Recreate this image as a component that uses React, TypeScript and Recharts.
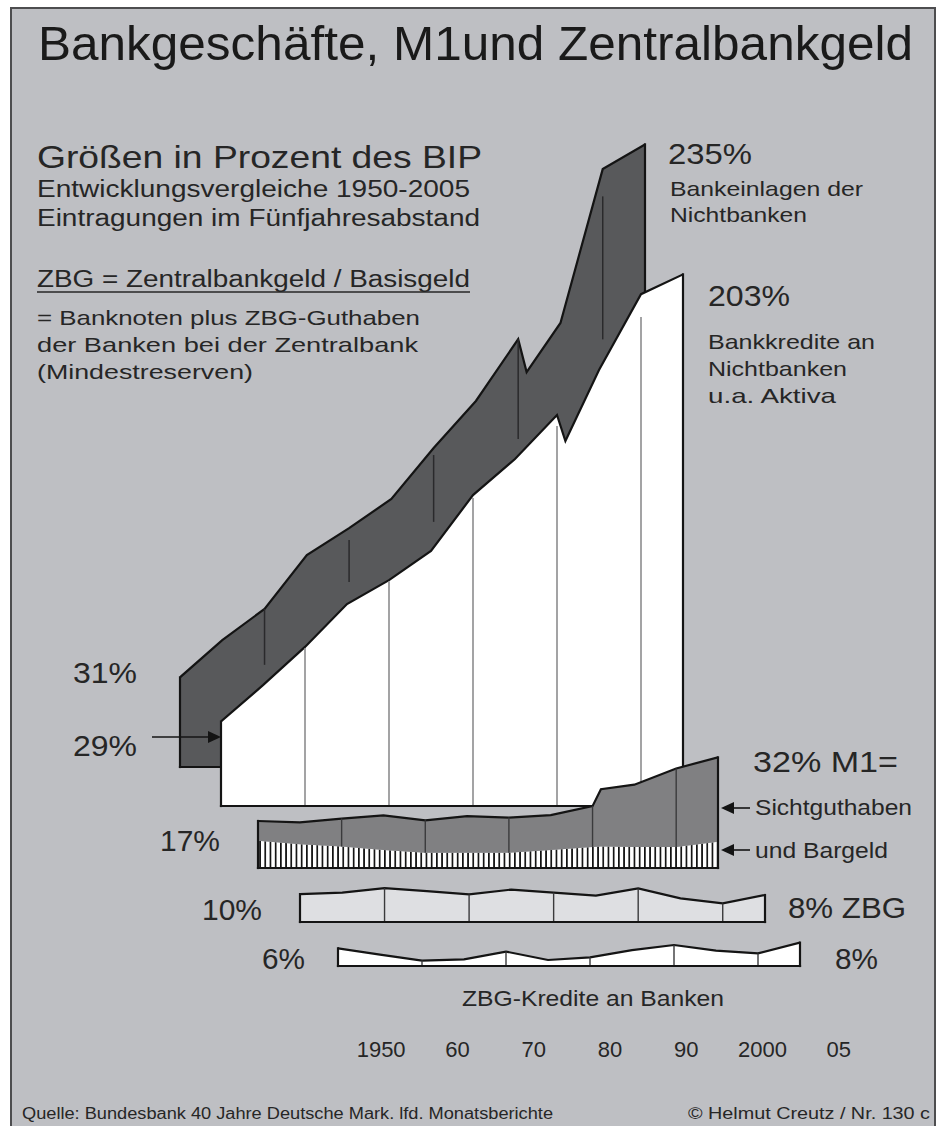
import React from 'react';
import { AreaChart, Area, XAxis, YAxis, ReferenceLine, BarChart } from 'recharts';

const FONT = '"Liberation Sans", Arial, Helvetica, sans-serif';
const INK = '#141414';
const TEXT = '#262626';

// ---------- data (per cent of GDP) ----------
const years = [1950, 1955, 1960, 1965, 1970, 1975, 1980, 1985, 1990, 1991, 1995, 2000, 2005];
const fiveYearSteps = [1950, 1955, 1960, 1965, 1970, 1975, 1980, 1985, 1990, 1995, 2000, 2005];
const decadeYears = [1960, 1970, 1980, 1990, 2000];

const bankDeposits = [31, 45.3, 57.3, 78.0, 88.4, 99.6, 119.2, 137.3, 161.1, 148.4, 167.3, 226.5, 236];
const bankCredits = [29, 43.0, 57.7, 74.2, 83.4, 94.6, 116.1, 130.0, 146.9, 136.9, 164.2, 193.4, 201];
const cashShare = [7.9, 6.9, 6.2, 5.2, 4.4, 4.4, 4.4, 5.2, 6.1, 6.2, 6.1, 6.1, 7.6];
const sightDeposits = [5.7, 6.3, 8.1, 10.0, 9.4, 10.6, 10.2, 10.1, 11.8, 16.6, 18.0, 22.7, 24.4];
const centralBankMoney = [9.3, 9.8, 11.3, 10.3, 9.2, 10.8, 9.8, 8.8, 11.2, 7.9, 6.2, 9.0];
const centralBankCredits = [5.9, 3.8, 1.8, 2.2, 4.8, 2.0, 2.9, 5.3, 7.0, 5.1, 4.2, 7.8];

const creditGridTop = [57.3, 83.0, 115.0, 142.7, 184.6];
const depositMarkTop = [57.3, 83.8, 116.5, 161.0, 216.0];
const depositMarkBottom = [35.8, 67.7, 90.8, 122.7, 161.0];

const yearTickLabels = ['1950', '60', '70', '80', '90', '2000', '05'];

// ---------- derived tables ----------
const depositsData = years.map((year, i) => ({ year, v: bankDeposits[i] }));
const creditsData = years.map((year, i) => ({ year, v: bankCredits[i] }));
const m1Data = years.map((year, i) => ({ year, cash: cashShare[i], sight: sightDeposits[i] }));
const zbgData = fiveYearSteps.map((year, i) => ({ year, v: centralBankMoney[i] }));
const zbgCreditData = fiveYearSteps.map((year, i) => ({ year, v: centralBankCredits[i] }));
const tickData = yearTickLabels.map((label) => ({ label }));

const M = 4;
const margin = { top: M, right: M, bottom: M, left: M };

function outline(prefix: string, x0: number, y0: number, x1: number, y1: number, base: number, w = 2.2) {
  const common = { stroke: INK, strokeWidth: w, ifOverflow: 'visible' as const, strokeLinecap: 'square' as const };
  return [
    <ReferenceLine key={prefix + 'L'} segment={[{ x: x0, y: base }, { x: x0, y: y0 }]} {...common} />,
    <ReferenceLine key={prefix + 'R'} segment={[{ x: x1, y: base }, { x: x1, y: y1 }]} {...common} />,
    <ReferenceLine key={prefix + 'B'} segment={[{ x: x0, y: base }, { x: x1, y: base }]} {...common} />,
  ];
}

function decadeMarks(prefix: string, tops: number[], bottoms: number[], color: string, w = 1.4) {
  return decadeYears.map((yr, i) => (
    <ReferenceLine
      key={prefix + yr}
      segment={[{ x: yr, y: bottoms[i] }, { x: yr, y: tops[i] }]}
      stroke={color}
      strokeWidth={w}
      ifOverflow="visible"
    />
  ));
}

const at = (xs: number[], vs: number[], x: number) => vs[xs.indexOf(x)];

function Pos({ left, top, children }: { left: number; top: number; children: React.ReactNode }) {
  return <div style={{ position: 'absolute', left, top }}>{children}</div>;
}

type T = { x: number; y: number; w: number; s: number; t: string };
const texts: T[] = [
  { x: 38, y: 60, w: 875, s: 49, t: 'Bankgeschäfte, M1und Zentralbankgeld' },
  { x: 37, y: 168, w: 445, s: 32, t: 'Größen in Prozent des BIP' },
  { x: 37, y: 197, w: 433, s: 23, t: 'Entwicklungsvergleiche 1950-2005' },
  { x: 37, y: 226, w: 443, s: 23, t: 'Eintragungen im Fünfjahresabstand' },
  { x: 37, y: 287, w: 433, s: 23, t: 'ZBG = Zentralbankgeld / Basisgeld' },
  { x: 37, y: 325, w: 383, s: 21, t: '= Banknoten plus ZBG-Guthaben' },
  { x: 37, y: 352, w: 381, s: 21, t: 'der Banken bei der Zentralbank' },
  { x: 37, y: 379, w: 216, s: 21, t: '(Mindestreserven)' },
  { x: 668, y: 164, w: 84, s: 30, t: '235%' },
  { x: 670, y: 196, w: 193, s: 21, t: 'Bankeinlagen der' },
  { x: 670, y: 222, w: 137, s: 21, t: 'Nichtbanken' },
  { x: 708, y: 306, w: 82, s: 30, t: '203%' },
  { x: 708, y: 349, w: 167, s: 21, t: 'Bankkredite an' },
  { x: 708, y: 376, w: 139, s: 21, t: 'Nichtbanken' },
  { x: 708, y: 403, w: 128, s: 21, t: 'u.a. Aktiva' },
  { x: 73, y: 683, w: 64, s: 29, t: '31%' },
  { x: 73, y: 756, w: 64, s: 29, t: '29%' },
  { x: 753, y: 772, w: 145, s: 29, t: '32%  M1=' },
  { x: 755, y: 815, w: 157, s: 22, t: 'Sichtguthaben' },
  { x: 755, y: 858, w: 133, s: 22, t: 'und Bargeld' },
  { x: 160, y: 851, w: 60, s: 29, t: '17%' },
  { x: 202, y: 920, w: 60, s: 29, t: '10%' },
  { x: 788, y: 918, w: 118, s: 29, t: '8% ZBG' },
  { x: 262, y: 969, w: 43, s: 29, t: '6%' },
  { x: 835, y: 969, w: 43, s: 29, t: '8%' },
  { x: 462, y: 1006, w: 262, s: 22, t: 'ZBG-Kredite an Banken' },
  { x: 22, y: 1119, w: 531, s: 16, t: 'Quelle: Bundesbank 40 Jahre Deutsche Mark. lfd. Monatsberichte' },
  { x: 688, y: 1119, w: 242, s: 16, t: '© Helmut Creutz  /  Nr. 130 c' },
];

function Arrow({ x1, x2, y }: { x1: number; x2: number; y: number }) {
  const dir = x2 > x1 ? 1 : -1;
  const hx = x2 - dir * 13;
  return (
    <g>
      <line x1={x1} y1={y} x2={hx} y2={y} stroke={INK} strokeWidth={1.6} />
      <polygon points={`${x2},${y} ${hx},${y - 6} ${hx},${y + 6}`} fill={INK} />
    </g>
  );
}

export default function App() {
  return (
    <div style={{ position: 'absolute', left: 0, top: 0, width: 939, height: 1126, overflow: 'hidden', background: '#ffffff', fontFamily: FONT }}>
      <svg width={939} height={1126} style={{ position: 'absolute', left: 0, top: 0 }}>
        <rect x={11} y={8} width={924} height={1140} fill="#bebfc3" stroke="#4d4d4f" strokeWidth={2} />
      </svg>

      {/* Bankeinlagen der Nichtbanken */}
      <Pos left={180 - M} top={108 - M}>
        <AreaChart width={465 + 2 * M} height={659 + 2 * M} data={depositsData} margin={margin}>
          <XAxis type="number" dataKey="year" domain={[1950, 2005]} hide allowDataOverflow />
          <YAxis type="number" domain={[-3.5, 250]} hide allowDataOverflow />
          <Area type="linear" dataKey="v" baseValue={-3.5} fill="#58595b" fillOpacity={1} stroke={INK} strokeWidth={2.2} dot={false} activeDot={false} isAnimationActive={false} />
          {decadeMarks('dm', depositMarkTop, depositMarkBottom, '#2a2a2c', 1.5)}
          {outline('do', 1950, bankDeposits[0], 2005, bankDeposits[bankDeposits.length - 1], -3.5)}
        </AreaChart>
      </Pos>

      {/* Bankkredite an Nichtbanken */}
      <Pos left={221 - M} top={238 - M}>
        <AreaChart width={462 + 2 * M} height={568 + 2 * M} data={creditsData} margin={margin}>
          <XAxis type="number" dataKey="year" domain={[1950, 2005]} hide allowDataOverflow />
          <YAxis type="number" domain={[-3.5, 215]} hide allowDataOverflow />
          <Area type="linear" dataKey="v" baseValue={-3.5} fill="#ffffff" fillOpacity={1} stroke={INK} strokeWidth={2.2} dot={false} activeDot={false} isAnimationActive={false} />
          {decadeMarks('cg', creditGridTop, decadeYears.map(() => -3.5), '#8c8c8e', 1.6)}
          {outline('co', 1950, bankCredits[0], 2005, bankCredits[bankCredits.length - 1], -3.5)}
        </AreaChart>
      </Pos>

      {/* M1 = Sichtguthaben und Bargeld */}
      <Pos left={258 - M} top={747 - M}>
        <AreaChart width={460 + 2 * M} height={121 + 2 * M} data={m1Data} margin={margin}>
          <defs>
            <pattern id="cashStripes" width={5.2} height={10} patternUnits="userSpaceOnUse">
              <rect x={0} y={0} width={5.2} height={10} fill="#ffffff" />
              <rect x={0} y={0} width={1.7} height={10} fill="#111111" />
            </pattern>
          </defs>
          <XAxis type="number" dataKey="year" domain={[1950, 2005]} hide allowDataOverflow />
          <YAxis type="number" domain={[0, 35]} hide allowDataOverflow />
          <Area type="linear" dataKey="cash" stackId="m1" fill="url(#cashStripes)" fillOpacity={1} stroke="none" dot={false} activeDot={false} isAnimationActive={false} />
          <Area type="linear" dataKey="sight" stackId="m1" fill="#808082" fillOpacity={1} stroke={INK} strokeWidth={2.2} dot={false} activeDot={false} isAnimationActive={false} />
          {decadeMarks(
            'mm',
            decadeYears.map((y) => at(years, cashShare, y) + at(years, sightDeposits, y)),
            decadeYears.map((y) => at(years, cashShare, y)),
            '#3a3a3c',
            1.4
          )}
          {outline('mo', 1950, cashShare[0] + sightDeposits[0], 2005, cashShare[12] + sightDeposits[12], 0)}
        </AreaChart>
      </Pos>

      {/* ZBG */}
      <Pos left={300 - M} top={880 - M}>
        <AreaChart width={465 + 2 * M} height={42 + 2 * M} data={zbgData} margin={margin}>
          <XAxis type="number" dataKey="year" domain={[1950, 2005]} hide allowDataOverflow />
          <YAxis type="number" domain={[0, 14]} hide allowDataOverflow />
          <Area type="linear" dataKey="v" fill="#dedfe2" fillOpacity={1} stroke={INK} strokeWidth={2.2} dot={false} activeDot={false} isAnimationActive={false} />
          {decadeMarks('zm', decadeYears.map((y) => at(fiveYearSteps, centralBankMoney, y)), decadeYears.map(() => 0), '#3a3a3c', 1.4)}
          {outline('zo', 1950, centralBankMoney[0], 2005, centralBankMoney[11], 0)}
        </AreaChart>
      </Pos>

      {/* ZBG-Kredite an Banken */}
      <Pos left={338 - M} top={936 - M}>
        <AreaChart width={462 + 2 * M} height={30 + 2 * M} data={zbgCreditData} margin={margin}>
          <XAxis type="number" dataKey="year" domain={[1950, 2005]} hide allowDataOverflow />
          <YAxis type="number" domain={[0, 10]} hide allowDataOverflow />
          <Area type="linear" dataKey="v" fill="#ffffff" fillOpacity={1} stroke={INK} strokeWidth={2.2} dot={false} activeDot={false} isAnimationActive={false} />
          {decadeMarks('km', decadeYears.map((y) => at(fiveYearSteps, centralBankCredits, y)), decadeYears.map(() => 0), '#3a3a3c', 1.4)}
          {outline('ko', 1950, centralBankCredits[0], 2005, centralBankCredits[11], 0)}
        </AreaChart>
      </Pos>

      {/* year axis */}
      <Pos left={343 - M} top={1033}>
        <BarChart width={534 + 2 * M} height={40} data={tickData} margin={{ top: M, right: M, bottom: 0, left: M }}>
          <XAxis
            dataKey="label"
            type="category"
            interval={0}
            axisLine={false}
            tickLine={false}
            tickSize={0}
            tickMargin={0}
            height={32}
            tick={{ fontSize: 22, fill: TEXT, fontFamily: FONT }}
          />
          <YAxis hide />
        </BarChart>
      </Pos>

      {/* annotations */}
      <svg width={939} height={1126} style={{ position: 'absolute', left: 0, top: 0, pointerEvents: 'none' }}>
        {texts.map((t, i) => (
          <text
            key={i}
            x={t.x}
            y={t.y}
            fontSize={t.s}
            fontFamily={FONT}
            fill={i === 0 ? '#1a1a1a' : TEXT}
            textLength={t.w}
            lengthAdjust="spacingAndGlyphs"
          >
            {t.t}
          </text>
        ))}
        <line x1={37} y1={292} x2={470} y2={292} stroke={TEXT} strokeWidth={1.6} />
        <Arrow x1={152} x2={221} y={737} />
        <Arrow x1={750} x2={721} y={808} />
        <Arrow x1={750} x2={721} y={850} />
      </svg>
    </div>
  );
}
